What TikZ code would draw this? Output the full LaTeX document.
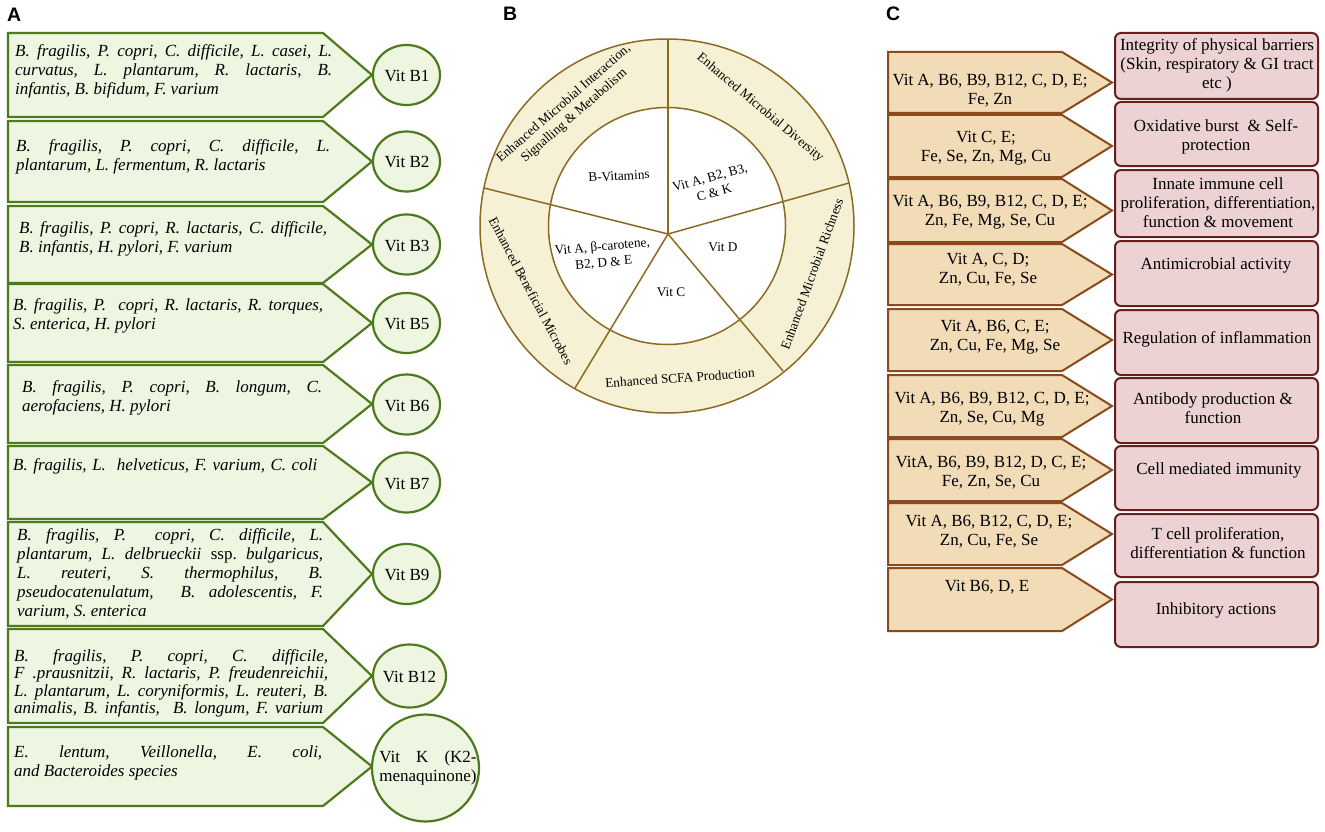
\documentclass[tikz,border=0pt]{standalone}
\usepackage{fontspec}
\setmainfont{Liberation Serif}
\newfontfamily\lab{Liberation Sans}
\usetikzlibrary{calc}
\frenchspacing
\definecolor{gfill}{HTML}{EEF5E0}
\definecolor{gline}{HTML}{4E7A1E}
\definecolor{bfill}{HTML}{F6F1D4}
\definecolor{bline}{HTML}{8B6B22}
\definecolor{tfill}{HTML}{F2DBB7}
\definecolor{tline}{HTML}{8B4A1E}
\definecolor{pfill}{HTML}{EDD2D4}
\definecolor{pline}{HTML}{6A1F1F}
\newlength\mq
\newcommand\jl[2]{\hbox to #1pt{#2}}
\newcommand\nl[1]{\hbox{#1}}
\newcommand\abox[2]{\draw[abox] (8,#1) -- (323,#1) -- (372,{(#1+#2)/2}) -- (323,#2) -- (8,#2) -- cycle;}
\newcommand\tbx[2]{\draw[tbox] (888,#1) -- (1062,#1) -- (1112,{(#1+#2)/2}) -- (1062,#2) -- (888,#2) -- cycle;}
\newcommand\pbx[2]{\draw[pbox] (1115,#1) rectangle (1318,#2);}
\begin{document}
\begin{tikzpicture}[x=1pt,y=-1pt,
  abox/.style={draw=gline, fill=gfill, line width=2.2pt, line join=miter},
  vitc/.style={draw=gline, fill=gfill, line width=2.2pt},
  atext/.style={anchor=base west, inner sep=0pt, font=\fontsize{17}{19}\selectfont\itshape},
  vtext/.style={inner sep=0pt, font=\fontsize{17}{19}\selectfont},
  ring/.style={draw=bline, line width=1.5pt},
  btext/.style={align=center, inner sep=0pt, font=\fontsize{13.3}{16}\selectfont},
  tbox/.style={draw=tline, fill=tfill, line width=2pt, line join=miter},
  pbox/.style={draw=pline, fill=pfill, line width=2pt, rounded corners=6pt},
  ctext/.style={align=center, inner sep=0pt, font=\fontsize{17}{19}\selectfont},
  plabel/.style={anchor=north west, inner sep=0pt, font=\lab\bfseries\fontsize{19.5}{20}\selectfont}]
\useasboundingbox (0,0) rectangle (1325,832);
\fill[white] (0,0) rectangle (1325,832);

% ---------------- Panel A ----------------
\node[plabel] (la) at (7,8) {A};
\abox{33}{117}
\abox{121}{202}
\abox{206}{283}
\abox{284}{362}
\abox{365}{443}
\abox{446}{519}
\abox{522}{626}
\abox{629}{723}
\abox{727}{806}

\node[atext] (a1) at (15,57) {\vtop{\jl{317}{B. fragilis, P. copri, C. difficile, L. casei, L.}\jl{317}{curvatus, L. plantarum, R. lactaris, B.}\nl{infantis, B. bifidum, F. varium}}};
\node[atext] (a2) at (16,152) {\vtop{\jl{314}{B. fragilis, P. copri, C. difficile, L.}\nl{plantarum, L. fermentum, R. lactaris}}};
\node[atext] (a3) at (19,233) {\vtop{\jl{308}{B. fragilis, P. copri, R. lactaris, C. difficile,}\nl{B. infantis, H. pylori, F. varium}}};
\node[atext] (a4) at (13,310) {\vtop{\jl{310}{B. fragilis, P.\ \ copri, R. lactaris, R. torques,}\nl{S. enterica, H. pylori}}};
\node[atext] (a5) at (22,392) {\vtop{\jl{300}{B. fragilis, P. copri, B. longum, C.}\nl{aerofaciens, H. pylori}}};
\node[atext] (a6) at (13,470) {\vtop{\jl{304}{B. fragilis, L.\ \ helveticus, F. varium, C. coli}}};
\node[atext] (a7) at (17,540) {\vtop{\jl{306}{B. fragilis, P.\ \ copri, C. difficile, L.}\jl{306}{plantarum, L. delbrueckii {\upshape ssp.} bulgaricus,}\jl{306}{L. reuteri, S. thermophilus, B.}\jl{306}{pseudocatenulatum,\ \ B. adolescentis, F.}\nl{varium, S. enterica}}};
\node[atext] (a8) at (14,661) {\vtop{\baselineskip=17.5pt\jl{314}{B. fragilis, P. copri, C. difficile,}\jl{314}{F .prausnitzii, R. lactaris, P. freudenreichii,}\jl{314}{L. plantarum, L. coryniformis, L. reuteri, B.}\jl{309}{animalis, B. infantis,\ \ B. longum, F. varium}}};
\node[atext] (a9) at (14,757) {\vtop{\jl{308}{E. lentum, Veillonella, E. coli,}\nl{and Bacteroides species}}};

\draw[vitc] (406.5,75) ellipse [x radius=33.5, y radius=30];
\draw[vitc] (406.5,161.5) ellipse [x radius=33.5, y radius=30];
\draw[vitc] (406.5,244.5) ellipse [x radius=33.5, y radius=30];
\draw[vitc] (406.5,323) ellipse [x radius=33.5, y radius=30];
\draw[vitc] (406.5,404.5) ellipse [x radius=33.5, y radius=30];
\draw[vitc] (406.5,482.5) ellipse [x radius=33.5, y radius=30];
\draw[vitc] (406.5,574) ellipse [x radius=33.5, y radius=30];
\draw[vitc] (409.5,676) ellipse [x radius=36.5, y radius=31.5];
\draw[vitc] (425.5,768) circle [radius=53.5];
\node[vtext] (v1) at (407,76) {Vit B1};
\node[vtext] (v2) at (407,162.5) {Vit B2};
\node[vtext] (v3) at (407,245.5) {Vit B3};
\node[vtext] (v5) at (407,324) {Vit B5};
\node[vtext] (v6) at (407,405.5) {Vit B6};
\node[vtext] (v7) at (407,483.5) {Vit B7};
\node[vtext] (v9) at (407,575) {Vit B9};
\node[vtext] (v12) at (409.5,677) {Vit B12};
\node[vtext] (vk) at (428,768) {\settowidth\mq{menaquinone)}\vtop{\hbox to\mq{Vit K (K2-}\hbox{menaquinone)}}};

% ---------------- Panel B ----------------
\node[plabel] (lb) at (503,7) {B};
\coordinate (O) at (667,226);
\coordinate (S) at (668,234);
\coordinate (P1) at (668,39);
\coordinate (P2) at (849,183);
\coordinate (P3) at (783,371);
\coordinate (P4) at (575,388);
\coordinate (P5) at (484,188);
\fill[bfill] (O) circle [radius=187];
\fill[white] (O) circle [radius=118.5];
\draw[ring] (O) circle [radius=187];
\draw[ring] (O) circle [radius=118.5];
\draw[ring] (S) -- (P1);
\draw[ring] (S) -- (P2);
\draw[ring] (S) -- (P3);
\draw[ring] (S) -- (P4);
\draw[ring] (S) -- (P5);
\node[btext, rotate=41] (r1) at (569,110) {Enhanced Microbial Interaction,\\Signalling \& Metabolism};
\node[btext, rotate=-40] (r2) at (760,108) {Enhanced Microbial Diversity};
\node[btext, rotate=70] (r3) at (812,274) {Enhanced Microbial Richness};
\node[btext, rotate=4] (r4) at (680,378) {Enhanced SCFA Production};
\node[btext, rotate=-62] (r5) at (531,291) {Enhanced Beneficial Microbes};
\node[btext, rotate=3] (i1) at (619,176) {B-Vitamins};
\node[btext, rotate=15] (i2) at (712,185) {Vit A, B2, B3,\\C \& K};
\node[btext] (i3) at (723,247) {Vit D};
\node[btext] (i4) at (671,292) {Vit C};
\node[btext, rotate=5] (i5) at (603,255) {Vit A, β-carotene,\\B2, D \& E};

% ---------------- Panel C ----------------
\node[plabel] (lc) at (886,7) {C};
\tbx{52}{113}
\tbx{115}{177}
\tbx{179}{242}
\tbx{244}{305}
\tbx{309}{371}
\tbx{375}{437}
\tbx{439}{501}
\tbx{503}{565}
\tbx{568}{631}
\pbx{33}{99}
\pbx{102}{166}
\pbx{170}{237}
\pbx{241}{306}
\pbx{310}{375}
\pbx{378}{443}
\pbx{446}{510}
\pbx{514}{577}
\pbx{582}{647}

\node[ctext] (c1) at (990,91) {Vit A, B6, B9, B12, C, D, E;\\Fe, Zn};
\node[ctext] (c2) at (986,148) {Vit C, E;\\Fe, Se, Zn, Mg, Cu};
\node[ctext] (c3) at (990,212.5) {Vit A, B6, B9, B12, C, D, E;\\Zn, Fe, Mg, Se, Cu};
\node[ctext] (c4) at (988,270) {Vit A, C, D;\\Zn, Cu, Fe, Se};
\node[ctext] (c5) at (995,337.5) {Vit A, B6, C, E;\\Zn, Cu, Fe, Mg, Se};
\node[ctext] (c6) at (992,409) {Vit A, B6, B9, B12, C, D, E;\\Zn, Se, Cu, Mg};
\node[ctext] (c7) at (991,473) {VitA, B6, B9, B12, D, C, E;\\Fe, Zn, Se, Cu};
\node[ctext] (c8) at (989,531.5) {Vit A, B6, B12, C, D, E;\\Zn, Cu, Fe, Se};
\node[ctext] (c9) at (987,587) {Vit B6, D, E};

\node[ctext] (d1) at (1217,65.5) {Integrity of physical barriers\\(Skin, respiratory \& GI tract\\etc )};
\node[ctext] (d2) at (1216,137) {Oxidative burst\ \ \& Self-\\protection};
\node[ctext] (d3) at (1218,203) {Innate immune cell\\proliferation, differentiation,\\function \& movement};
\node[ctext] (d4) at (1216,265) {Antimicrobial activity};
\node[ctext] (d5) at (1217,339) {Regulation of inflammation};
\node[ctext] (d6) at (1213,408.5) {Antibody production \&\\function};
\node[ctext] (d7) at (1219,470) {Cell mediated immunity};
\node[ctext] (d8) at (1218,543) {T cell proliferation,\\differentiation \& function};
\node[ctext] (d9) at (1216,610) {Inhibitory actions};
\end{tikzpicture}
\end{document}
